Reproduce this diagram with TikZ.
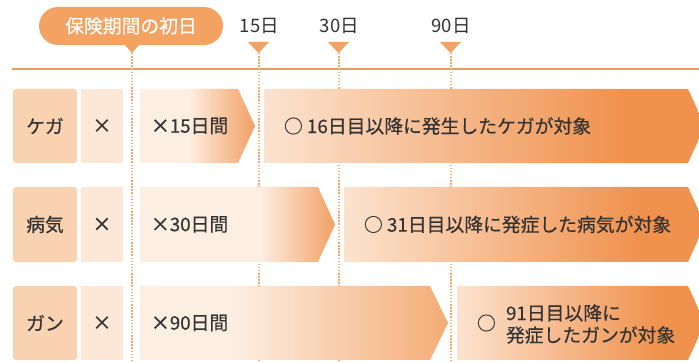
\documentclass[tikz,border=0pt]{standalone}
\usepackage{fontspec}
\setmainfont{Noto Sans CJK JP}[FakeBold=0.35]
\newfontfamily\boldcjk{Noto Sans CJK JP}[FakeBold=2]
\newfontfamily\plaincjk{Noto Sans CJK JP}
\usetikzlibrary{shadings}
\definecolor{pillc}{HTML}{F3A262}
\definecolor{linec}{HTML}{F19B5C}
\definecolor{dotc}{HTML}{F5A66B}
\definecolor{labc}{HTML}{F9D2B1}
\definecolor{xbc}{HTML}{FDE7D6}
\definecolor{txt}{HTML}{333333}
\definecolor{lite}{HTML}{FDEEE2}
\definecolor{orA}{HTML}{F2A064}
\definecolor{orC}{HTML}{F4AC75}
\definecolor{lite2}{HTML}{FCE3CF}
\definecolor{orB}{HTML}{F0914D}
\pgfdeclarehorizontalshading{shA}{100bp}{color(0bp)=(lite); color(25bp)=(lite); color(46bp)=(lite); color(75bp)=(orA); color(100bp)=(orA)}
\pgfdeclarehorizontalshading{shB}{100bp}{color(0bp)=(lite); color(25bp)=(lite); color(56bp)=(lite); color(75bp)=(orA); color(100bp)=(orA)}
\pgfdeclarehorizontalshading{shC}{100bp}{color(0bp)=(lite); color(25bp)=(lite); color(40bp)=(lite); color(75bp)=(orC); color(100bp)=(orC)}
\pgfdeclarehorizontalshading{shD}{100bp}{color(0bp)=(lite2); color(25bp)=(lite2); color(66bp)=(orB); color(100bp)=(orB)}
\begin{document}
\begin{tikzpicture}[x=1pt,y=-1pt,
  every node/.style={inner sep=0pt,outer sep=0pt,text=txt},
  rowtxt/.style={font=\fontsize{18.8}{22}\selectfont},
  daytxt/.style={font=\plaincjk\fontsize{18.5}{20}\selectfont},
  dotline/.style={dotc,line width=2pt,dash pattern=on 1.5pt off 1.6pt},
  labbox/.style={fill=labc,rounded corners=3pt},
  xbox/.style={fill=xbc},
  tri/.style={fill=pillc}]
\useasboundingbox (0,0) rectangle (699,363);
\fill[white] (0,0) rectangle (699,363);
% horizontal line
\draw[linec,line width=2pt] (12,69) -- (699,69);
% day markers
\coordinate (d0) at (132,53);
\coordinate (d15) at (258.5,53);
\coordinate (d30) at (338.5,53);
\coordinate (d90) at (450.5,53);
\foreach \c in {d0,d15,d30,d90}{\draw[dotline] (\c) -- ++(0,310);}
\foreach \c in {d15,d30,d90}{\fill[tri] (\c) -- ++(-10.5,-11) -- ++(21,0) -- cycle;}
\node[daytxt,anchor=base] (t15) at (259.5,33) {15日};
\node[daytxt,anchor=base] (t30) at (339.5,33) {30日};
\node[daytxt,anchor=base] (t90) at (451,33) {90日};
% pill
\fill[pillc,rounded corners=19pt] (39,7) rectangle (223,45);
\fill[pillc] (124,44) -- (140,44) -- (d0) -- cycle;
\node[font=\fontsize{18.8}{20}\selectfont,text=white,anchor=base] (pill) at (131,33) {保険期間の初日};
% rows
\foreach \yt/\yb [count=\i] in {89/163,187/262,286/360}{
  \fill[labbox] (13,\yt) rectangle (77,\yb);
  \fill[xbox] (81,\yt) rectangle (123,\yb);
}
% arrows row 1
\shade[shading=shA] (140,89) -- (238,89) -- (255,126) -- (238,163) -- (140,163) -- cycle;
\shade[shading=shD] (264,89) -- (688,89) -- (705,126) -- (688,163) -- (264,163) -- cycle;
% arrows row 2
\shade[shading=shB] (140,187) -- (318,187) -- (335,224.5) -- (318,262) -- (140,262) -- cycle;
\shade[shading=shD] (344,187) -- (688,187) -- (705,224.5) -- (688,262) -- (344,262) -- cycle;
% arrows row 3
\shade[shading=shC] (140,286) -- (430,286) -- (448,323) -- (430,360) -- (140,360) -- cycle;
\shade[shading=shD] (457,286) -- (688,286) -- (705,323) -- (688,360) -- (457,360) -- cycle;
% texts
\node[rowtxt] (l1) at (45,126) {ケガ};
\node[rowtxt] (l2) at (45,224.5) {病気};
\node[rowtxt] (l3) at (45,323) {ガン};
\node[rowtxt] (x1) at (102,126) {\boldcjk ×};
\node[rowtxt] (x2) at (102,224.5) {\boldcjk ×};
\node[rowtxt] (x3) at (102,323) {\boldcjk ×};
\node[rowtxt,anchor=west] (a1) at (151,126) {{\boldcjk ×}15日間};
\node[rowtxt,anchor=west] (a2) at (151,224.5) {{\boldcjk ×}30日間};
\node[rowtxt,anchor=west] (a3) at (151,323) {{\boldcjk ×}90日間};
\node[rowtxt,anchor=west] (b1) at (284,126) {○ 16日目以降に発生したケガが対象};
\node[rowtxt,anchor=west] (b2) at (364,224.5) {○ 31日目以降に発症した病気が対象};
\node[rowtxt,anchor=west] (b3o) at (477,323) {○};
\node[rowtxt,anchor=west,align=left] (b3) at (506,324) {91日目以降に\\発症したガンが対象};
\end{tikzpicture}
\end{document}
